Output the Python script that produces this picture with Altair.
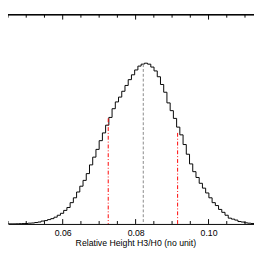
import altair as alt
import pandas as pd

# Histogram (relative height H3/H0), bin width and left edge of the peak bin
BIN_WIDTH = 0.000885
PEAK_BIN_LEFT = 0.08151
FIRST_BIN = -44
counts = [
    0, 0, 0.05, 0.1, 0.1, 0.2, 0.3, 0.4, 0.5, 0.8,
    1, 1.5, 2, 3, 3.5, 4.5, 5.5, 7, 9, 11,
    14, 17, 22, 27, 33, 39, 45, 52, 61, 69,
    77, 86, 94, 102, 110, 119, 126, 131, 137, 143,
    149, 154, 159, 163,
    165, 166, 165, 162, 158, 152, 144, 136, 125, 117,
    109, 100, 92, 82, 72, 62, 54, 48, 42, 37,
    32, 27, 22, 19, 15, 12, 9, 6, 5, 4,
    2.5, 2, 1.2, 0.8, 0.5, 0.3,
]

# Vertical markers: lower bound, median, upper bound
ci_x = [0.07249, 0.09152]
ci_top = [109, 94]
med_x = [0.0821]
med_top = [165]

major_ticks = [0.06, 0.08, 0.10]
minor_ticks = [0.045, 0.05, 0.055, 0.065, 0.07, 0.075, 0.085, 0.09, 0.095, 0.105, 0.11]

X_DOMAIN = [0.045, 0.11247]
Y_DOMAIN = [0, 216]
W, H = 254, 216

hist = pd.DataFrame({
    "x": [PEAK_BIN_LEFT + (FIRST_BIN + i + 0.5) * BIN_WIDTH for i in range(len(counts))],
    "y": counts,
})
ci = pd.DataFrame({"x": ci_x, "y": ci_top, "b": [0] * len(ci_x)})
med = pd.DataFrame({"x": med_x, "y": med_top, "b": [0] * len(med_x)})
maj = pd.DataFrame({"x": major_ticks})
mnr = pd.DataFrame({"x": minor_ticks})

xscale = alt.Scale(domain=X_DOMAIN, nice=False, zero=False)
yscale = alt.Scale(domain=Y_DOMAIN, nice=False)
xaxis = alt.Axis(
    values=major_ticks, format=".2f", ticks=False, tickSize=0, grid=False,
    domainColor="black", domainWidth=1,
    labelFont="Liberation Sans", labelFontSize=9, labelColor="black",
    labelBaseline="alphabetic", labelPadding=12.3,
    title="Relative Height H3/H0 (no unit)", titleFont="Liberation Sans",
    titleFontSize=9, titleFontWeight="normal", titleColor="black",
    titleBaseline="alphabetic", titleAlign="center", titleX=131.5, titleY=22.3,
)
X = alt.X("x:Q", scale=xscale, axis=xaxis)
Y = alt.Y("y:Q", scale=yscale, axis=None)

line = alt.Chart(hist).mark_line(interpolate="step", color="black", strokeWidth=1, clip=True).encode(x=X, y=Y)

ci_rules = alt.Chart(ci).mark_rule(color="red", strokeWidth=1, strokeDash=[4, 2, 1, 2]).encode(
    x=X, y=Y, y2="b:Q")
med_rules = alt.Chart(med).mark_rule(color="#888888", strokeWidth=1, strokeDash=[3, 2]).encode(
    x=X, y=Y, y2="b:Q")

top_line = alt.Chart(maj).mark_rule(color="black", strokeWidth=1).encode(
    x=alt.value(0), x2=alt.value(W), y=alt.value(0))

maj_top = alt.Chart(maj).mark_rule(color="black", strokeWidth=1).encode(
    x=X, y=alt.value(0), y2=alt.value(5))
mnr_top = alt.Chart(mnr).mark_rule(color="black", strokeWidth=1, clip=True).encode(
    x=X, y=alt.value(0), y2=alt.value(3))
maj_bot = alt.Chart(maj).mark_rule(color="black", strokeWidth=1).encode(
    x=X, y=alt.value(H), y2=alt.value(H - 5))
mnr_bot = alt.Chart(mnr).mark_rule(color="black", strokeWidth=1, clip=True).encode(
    x=X, y=alt.value(H), y2=alt.value(H - 3))

chart = alt.layer(
    line, med_rules, ci_rules, top_line, maj_top, mnr_top, maj_bot, mnr_bot
).properties(
    width=W, height=H,
    autosize=alt.AutoSizeParams(type="none"),
    padding={"left": 0, "top": 3, "right": 0, "bottom": 26},
).configure_view(stroke=None)

chart.save("out.html", embed_options={"renderer": "svg", "actions": False})
